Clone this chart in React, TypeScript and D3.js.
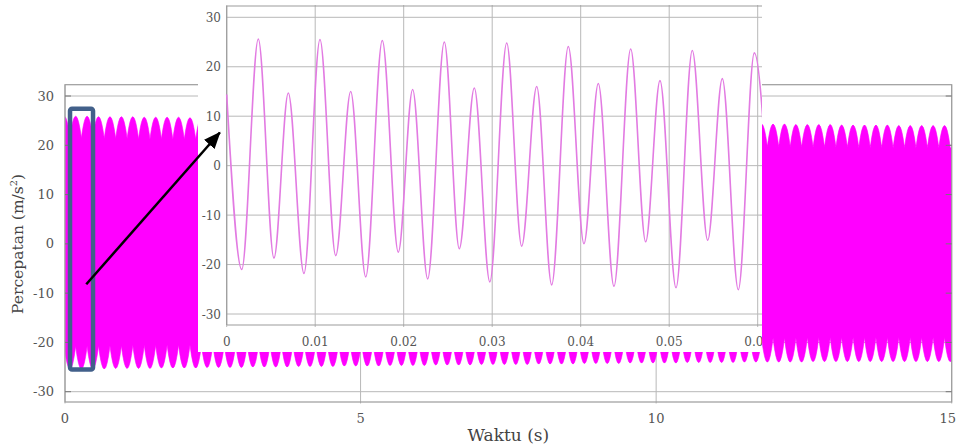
import React from "react";
import * as d3 from "d3";

// ---------------- data ----------------
const mainXTicks = [0, 5, 10, 15];
const mainYTicks = [-30, -20, -10, 0, 10, 20, 30];
const insetXTicks = [0, 0.01, 0.02, 0.03, 0.04, 0.05, 0.06];
const insetXTickLabels = ["0", "0.01", "0.02", "0.03", "0.04", "0.05", "0.06"];
const insetYTicks = [-30, -20, -10, 0, 10, 20, 30];

const xTitle = "Waktu (s)";
const yTitle = "Percepatan (m/s";

// envelope of the dense 15 s signal (scallops of the filled area)
const scallopStart = -0.013; // s, time of the first upper scallop tip
const scallopPeriod = 0.1934; // s, spacing of scallops
const upperTips = [
  25.9, 25.9, 25.9, 25.8, 25.8, 25.8, 25.8, 25.7, 25.7, 25.7, 25.7, 25.6, 25.6,
  25.6, 25.6, 25.5, 25.5, 25.5, 25.5, 25.4, 25.4, 25.4, 25.4, 25.3, 25.3, 25.3,
  25.3, 25.2, 25.2, 25.2, 25.2, 25.1, 25.1, 25.1, 25.0, 25.0, 25.0, 25.0, 24.9,
  24.9, 24.9, 24.9, 24.8, 24.8, 24.8, 24.7, 24.7, 24.7, 24.7, 24.6, 24.6, 24.6,
  24.6, 24.5, 24.5, 24.5, 24.4, 24.4, 24.4, 24.4, 24.3, 24.3, 24.3, 24.3, 24.2,
  24.2, 24.2, 24.2, 24.1, 24.1, 24.1, 24.1, 24.1, 24.0, 24.0, 24.0, 24.0, 24.0,
];
const upperDips = [
  21.5, 21.5, 21.5, 21.4, 21.4, 21.4, 21.3, 21.3, 21.3, 21.2, 21.2, 21.2, 21.2,
  21.1, 21.1, 21.1, 21.0, 21.0, 21.0, 20.9, 20.9, 20.9, 20.8, 20.8, 20.8, 20.8,
  20.7, 20.7, 20.7, 20.6, 20.6, 20.6, 20.5, 20.5, 20.5, 20.5, 20.4, 20.4, 20.4,
  20.3, 20.3, 20.3, 20.3, 20.2, 20.2, 20.2, 20.1, 20.1, 20.1, 20.0, 20.0, 20.0,
  20.0, 19.9, 19.9, 19.9, 19.8, 19.8, 19.8, 19.8, 19.7, 19.7, 19.7, 19.7, 19.6,
  19.6, 19.6, 19.6, 19.6, 19.5, 19.5, 19.5, 19.5, 19.5, 19.5, 19.5, 19.5, 19.5,
];
const lowerTips = [
  -25.4, -25.4, -25.4, -25.4, -25.3, -25.3, -25.3, -25.3, -25.2, -25.2, -25.2, -25.2, -25.1,
  -25.1, -25.1, -25.1, -25.0, -25.0, -25.0, -25.0, -24.9, -24.9, -24.9, -24.9, -24.8, -24.8,
  -24.8, -24.8, -24.7, -24.7, -24.7, -24.7, -24.6, -24.6, -24.6, -24.6, -24.5, -24.5, -24.5,
  -24.5, -24.5, -24.4, -24.4, -24.4, -24.4, -24.3, -24.3, -24.3, -24.3, -24.2, -24.2, -24.2,
  -24.2, -24.2, -24.1, -24.1, -24.1, -24.1, -24.1, -24.0, -24.0, -24.0, -24.0, -24.0, -24.0,
  -23.9, -23.9, -23.9, -23.9, -23.9, -23.9, -23.9, -23.9, -23.9, -23.9, -23.9, -23.9, -23.9,
];
const lowerDips = [
  -20.8, -20.8, -20.8, -20.7, -20.7, -20.7, -20.6, -20.6, -20.6, -20.5, -20.5, -20.5, -20.5,
  -20.4, -20.4, -20.4, -20.3, -20.3, -20.3, -20.2, -20.2, -20.2, -20.2, -20.1, -20.1, -20.1,
  -20.0, -20.0, -20.0, -20.0, -19.9, -19.9, -19.9, -19.8, -19.8, -19.8, -19.8, -19.7, -19.7,
  -19.7, -19.6, -19.6, -19.6, -19.6, -19.5, -19.5, -19.5, -19.5, -19.4, -19.4, -19.4, -19.4,
  -19.3, -19.3, -19.3, -19.3, -19.2, -19.2, -19.2, -19.2, -19.1, -19.1, -19.1, -19.1, -19.1,
  -19.0, -19.0, -19.0, -19.0, -19.0, -19.0, -19.0, -19.0, -19.0, -19.0, -19.0, -19.0, -19.0,
];

// zoomed inset: extrema of the first 0.06 s (time s, acceleration m/s^2)
const insetTime = [
  0, 0.0017, 0.00357, 0.00534, 0.00696, 0.00873, 0.01054, 0.01232, 0.01401, 0.01571,
  0.01758, 0.01939, 0.02101, 0.02271, 0.02459, 0.02628, 0.02798, 0.02973, 0.03164, 0.03333,
  0.03503, 0.03672, 0.0386, 0.04037, 0.04199, 0.04376, 0.04565, 0.04734, 0.04896, 0.05077,
  0.05261, 0.05435, 0.056, 0.05781, 0.05962, 0.0614,
];
const insetAccel = [
  14.4, -21.0, 25.6, -18.7, 14.7, -21.8, 25.5, -18.2, 15.0, -22.5,
  25.3, -17.5, 15.4, -22.9, 25.0, -16.8, 15.7, -23.5, 24.8, -16.3,
  16.0, -24.1, 24.1, -15.8, 16.6, -24.4, 23.6, -15.4, 17.2, -24.7,
  23.3, -15.1, 17.6, -25.1, 22.8, -14.8,
];

// highlighted window and arrow, in main-chart data coordinates
const highlightT = [0.085, 0.474];
const highlightV = [-25.5, 27.4];
const arrowT = [0.36, 2.62];
const arrowV = [-8.2, 22.6];

// ---------------- component ----------------
export default function App() {
  const W = 957;
  const H = 447;
  const font = "'DejaVu Serif', 'Liberation Serif', serif";
  const tickColor = "#555";

  // main chart
  const fL = 65, fR = 951.7, fT = 84.7, fB = 402;
  const mx = d3.scaleLinear().domain([0, 15]).range([fL, fR]);
  const my = d3.scaleLinear().domain([-30, 30]).range([391.7, 96]);

  const tx = (i: number) => mx(scallopStart + i * scallopPeriod);
  const n = upperTips.length;
  const p = d3.path();
  p.moveTo(fL - 6, my(upperDips[0]));
  p.lineTo(tx(-0.5), my(upperDips[0]));
  for (let k = 0; k < n; k++) {
    const y0 = my(upperDips[Math.max(k - 1, 0)]);
    const y1 = my(upperDips[k]);
    const ya = my(upperTips[k]);
    p.quadraticCurveTo(tx(k), 2 * ya - (y0 + y1) / 2, tx(k + 0.5), y1);
  }
  p.lineTo(fR + 6, my(upperDips[n - 1]));
  p.lineTo(fR + 6, my(lowerDips[n - 1]));
  p.lineTo(tx(n), my(lowerDips[n - 1]));
  for (let k = n - 1; k >= 0; k--) {
    const yStart = my(lowerDips[Math.min(k + 1, n - 1)]);
    const yEnd = my(lowerDips[k]);
    const ya = my(lowerTips[k]);
    p.quadraticCurveTo(tx(k + 0.5), 2 * ya - (yStart + yEnd) / 2, tx(k), yEnd);
  }
  p.lineTo(fL - 6, my(lowerDips[0]));
  p.closePath();

  // inset
  const iL = 198, iR = 762, iT = 0, iB = 352;
  const pL = 226.7, pT = 6, pB = 325;
  const ix = d3.scaleLinear().domain([0, 0.06]).range([pL, 757.7]);
  const iy = d3.scaleLinear().domain([-30, 30]).range([314, 17.3]);
  const insetLine = d3
    .line<number>()
    .x((_, i) => ix(insetTime[i]))
    .y((d) => iy(d))
    .curve(d3.curveMonotoneX)(insetAccel) as string;

  const grid = "#b8b8b8";
  const frameC = "#9c9c9c";

  return (
    <svg
      width={W}
      height={H}
      viewBox={`0 0 ${W} ${H}`}
      style={{ position: "absolute", left: 0, top: 0, background: "#fff" }}
      fontFamily={font}
    >
      <defs>
        <clipPath id="mainClip">
          <rect x={fL} y={fT} width={fR - fL} height={fB - fT} />
        </clipPath>
        <clipPath id="insetClip">
          <rect x={iL} y={iT} width={iR - iL} height={iB - iT} />
        </clipPath>
        <marker
          id="arrowHead"
          markerUnits="userSpaceOnUse"
          markerWidth={18}
          markerHeight={14}
          refX={16}
          refY={7}
          orient="auto"
        >
          <path d="M0,0 L17,7 L0,14 Z" fill="#000" />
        </marker>
      </defs>

      <rect x={0} y={0} width={W} height={H} fill="#fff" />

      {/* main gridlines */}
      {mainXTicks.map((t) => (
        <line key={"mgx" + t} x1={mx(t)} x2={mx(t)} y1={fT} y2={fB + 1.5} stroke={grid} strokeWidth={1} />
      ))}
      {mainYTicks.map((v) => (
        <line key={"mgy" + v} x1={fL} x2={fR} y1={my(v)} y2={my(v)} stroke={grid} strokeWidth={1} />
      ))}

      {/* dense signal */}
      <g clipPath="url(#mainClip)">
        <path d={p.toString()} fill="#ff00ff" stroke="#ff00ff" strokeWidth={0.6} />
      </g>

      {/* main frame */}
      <rect x={fL} y={fT} width={fR - fL} height={fB - fT} fill="none" stroke={frameC} strokeWidth={1.2} />
      {mainYTicks.map((v) => (
        <g key={"mty" + v}>
          <line x1={fL} x2={fL + 6} y1={my(v)} y2={my(v)} stroke="#777" strokeWidth={1} />
          <line x1={fR - 6} x2={fR} y1={my(v)} y2={my(v)} stroke="#777" strokeWidth={1} />
        </g>
      ))}

      {/* main tick labels */}
      {mainXTicks.map((t, i) => {
        const last = i === mainXTicks.length - 1;
        return (
          <text
            key={"mlx" + t}
            x={last ? W - 1 : mx(t)}
            y={423}
            textAnchor={last ? "end" : "middle"}
            fontSize={13}
            fill={tickColor}
          >
            {String(t)}
          </text>
        );
      })}
      {mainYTicks.map((v) => (
        <text key={"mly" + v} x={54} y={my(v) + 4.5} textAnchor="end" fontSize={13} fill={tickColor}>
          {String(v)}
        </text>
      ))}
      <text x={(fL + fR) / 2} y={441} textAnchor="middle" fontSize={17} fill="#444">
        {xTitle}
      </text>
      <text
        transform={`translate(23, ${my(0)}) rotate(-90)`}
        textAnchor="middle"
        fontSize={15.5}
        fill="#444"
      >
        {yTitle}
        <tspan fontSize={10} dy={-6}>2</tspan>
        <tspan dy={6}>)</tspan>
      </text>

      {/* highlight window */}
      <rect
        x={mx(highlightT[0])}
        y={my(highlightV[1])}
        width={mx(highlightT[1]) - mx(highlightT[0])}
        height={my(highlightV[0]) - my(highlightV[1])}
        rx={2}
        fill="none"
        stroke="#42608a"
        strokeWidth={4.5}
      />

      {/* inset */}
      <g clipPath="url(#insetClip)">
        <rect x={iL} y={iT} width={iR - iL} height={iB - iT} fill="#fff" />
        {insetXTicks.map((t) => (
          <line key={"igx" + t} x1={ix(t)} x2={ix(t)} y1={pT - 1} y2={pB + 2} stroke={grid} strokeWidth={1} />
        ))}
        {insetYTicks.map((v) => (
          <line key={"igy" + v} x1={pL} x2={iR + 10} y1={iy(v)} y2={iy(v)} stroke={grid} strokeWidth={1} />
        ))}
        <line x1={pL} x2={pL} y1={pT} y2={pB} stroke={frameC} strokeWidth={1.2} />
        <line x1={pL} x2={iR + 10} y1={pT} y2={pT} stroke={frameC} strokeWidth={1.2} />
        <line x1={pL} x2={iR + 10} y1={pB} y2={pB} stroke={frameC} strokeWidth={1.2} />
        <path d={insetLine} fill="none" stroke="#e27be2" strokeWidth={1.6} />
        {insetXTicks.map((t, i) => (
          <text key={"ilx" + t} x={ix(t)} y={346} textAnchor="middle" fontSize={12} fill={tickColor}>
            {insetXTickLabels[i]}
          </text>
        ))}
        {insetYTicks.map((v) => (
          <text key={"ily" + v} x={221} y={iy(v) + 4.5} textAnchor="end" fontSize={12} fill={tickColor}>
            {String(v)}
          </text>
        ))}
      </g>

      {/* arrow */}
      <line
        x1={mx(arrowT[0])}
        y1={my(arrowV[0])}
        x2={mx(arrowT[1])}
        y2={my(arrowV[1])}
        stroke="#000"
        strokeWidth={2.5}
        markerEnd="url(#arrowHead)"
      />
    </svg>
  );
}
